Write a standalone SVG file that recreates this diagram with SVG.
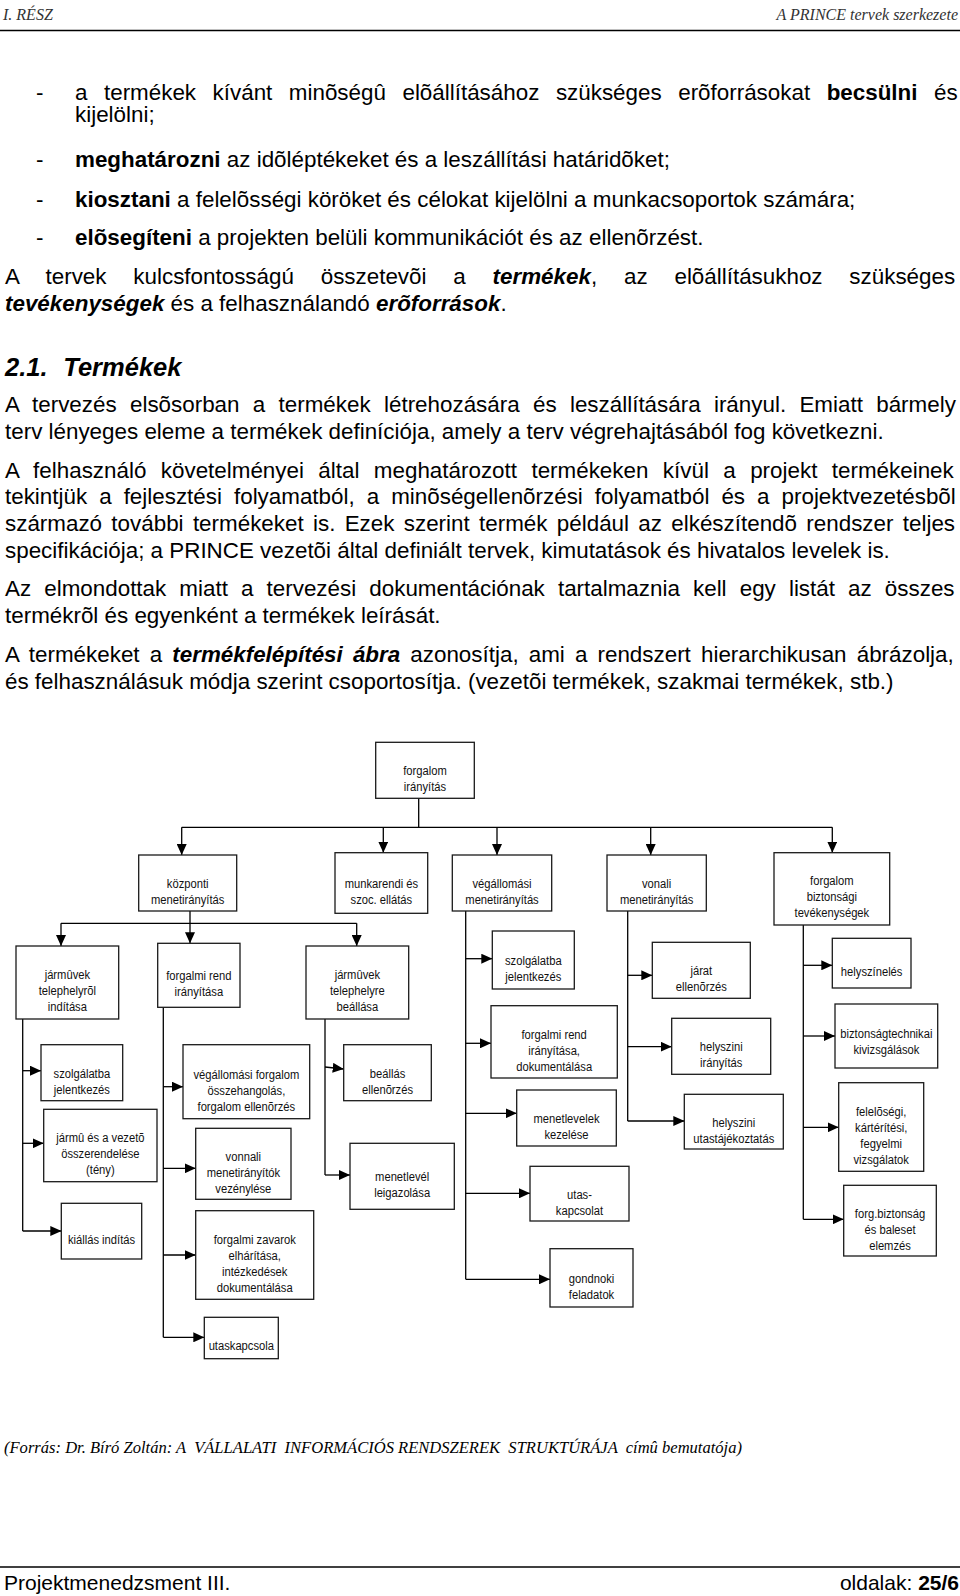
<svg xmlns="http://www.w3.org/2000/svg" width="960" height="1596" viewBox="0 0 960 1596">
<style>
.hd{font-family:'Liberation Serif','Times New Roman',serif;font-style:italic;font-size:16px;fill:#333}
.b{font-family:'Liberation Sans',Arial,sans-serif;font-size:22.4px;fill:#000}
.bd{font-weight:bold}
.bi{font-weight:bold;font-style:italic}
.h{font-family:'Liberation Sans',Arial,sans-serif;font-size:25.5px;font-weight:bold;font-style:italic;fill:#000}
.src{font-family:'Liberation Serif','Times New Roman',serif;font-style:italic;font-size:17px;fill:#000}
.ft{font-family:'Liberation Sans',Arial,sans-serif;font-size:21px;fill:#000}
.box{fill:#fff;stroke:#1a1a1a;stroke-width:1.3}
.nt{font-family:'Liberation Sans',Arial,sans-serif;font-size:13.5px;text-anchor:middle;fill:#111}
.cn path{fill:none;stroke:#000;stroke-width:1.3}
.cn .a{marker-end:url(#arr)}
.rule{stroke:#000;stroke-width:1.6}
</style>
<defs>
<marker id="arr" markerUnits="userSpaceOnUse" markerWidth="11" markerHeight="10" viewBox="0 0 11 10" refX="11" refY="5" orient="auto">
<path d="M0,0 L11,5 L0,10 z" fill="#000"/>
</marker>
</defs>
<rect width="960" height="1596" fill="#fff"/>

<g id="page">
<text class="hd" x="3" y="19.5">I. RÉSZ</text>
<text class="hd" x="958" y="19.5" text-anchor="end">A PRINCE tervek szerkezete</text>
<line class="rule" x1="0" y1="30.5" x2="960" y2="30.5"/>

<text class="b" x="36" y="100">-</text>
<text class="b" x="75" y="100" word-spacing="10.3">a termékek kívánt minõségû elõállításához szükséges erõforrásokat <tspan class="bd">becsülni</tspan> és</text>
<text class="b" x="75" y="122">kijelölni;</text>
<text class="b" x="36" y="166.5">-</text>
<text class="b" x="75" y="166.5"><tspan class="bd">meghatározni</tspan> az idõléptékeket és a leszállítási határidõket;</text>
<text class="b" x="36" y="206.5">-</text>
<text class="b" x="75" y="206.5"><tspan class="bd">kiosztani</tspan> a felelõsségi köröket és célokat kijelölni a munkacsoportok számára;</text>
<text class="b" x="36" y="245">-</text>
<text class="b" x="75" y="245"><tspan class="bd">elõsegíteni</tspan> a projekten belüli kommunikációt és az ellenõrzést.</text>
<text class="b" x="5" y="284" word-spacing="20.6">A tervek kulcsfontosságú összetevõi a <tspan class="bi">termékek</tspan>, az elõállításukhoz szükséges</text>
<text class="b" x="5" y="311"><tspan class="bi">tevékenységek</tspan> és a felhasználandó <tspan class="bi">erõforrások</tspan>.</text>

<text class="h" x="5" y="376">2.1.</text>
<text class="h" x="63.3" y="376">Termékek</text>

<text class="b" x="5" y="412" word-spacing="7.1">A tervezés elsõsorban a termékek létrehozására és leszállítására irányul. Emiatt bármely</text>
<text class="b" x="5" y="438.6">terv lényeges eleme a termékek definíciója, amely a terv végrehajtásából fog következni.</text>
<text class="b" x="5" y="477.6" word-spacing="8.2">A felhasználó követelményei által meghatározott termékeken kívül a projekt termékeinek</text>
<text class="b" x="5" y="504.2" word-spacing="5.8">tekintjük a fejlesztési folyamatból, a minõségellenõrzési folyamatból és a projektvezetésbõl</text>
<text class="b" x="5" y="530.8" word-spacing="3.1">származó további termékeket is. Ezek szerint termék például az elkészítendõ rendszer teljes</text>
<text class="b" x="5" y="557.8">specifikációja; a PRINCE vezetõi által definiált tervek, kimutatások és hivatalos levelek is.</text>
<text class="b" x="5" y="596.3" word-spacing="6.9">Az elmondottak miatt a tervezési dokumentációnak tartalmaznia kell egy listát az összes</text>
<text class="b" x="5" y="622.9">termékrõl és egyenként a termékek leírását.</text>
<text class="b" x="5" y="662" word-spacing="3.9">A termékeket a <tspan class="bi">termékfelépítési ábra</tspan> azonosítja, ami a rendszert hierarchikusan ábrázolja,</text>
<text class="b" x="5" y="688.5">és felhasználásuk módja szerint csoportosítja. (vezetõi termékek, szakmai termékek, stb.)</text>

<text class="src" x="4" y="1453" textLength="738" lengthAdjust="spacingAndGlyphs" xml:space="preserve">(Forrás: Dr. Bíró Zoltán: A  VÁLLALATI  INFORMÁCIÓS RENDSZEREK  STRUKTÚRÁJA  címû bemutatója)</text>
<line class="rule" x1="0" y1="1567" x2="960" y2="1567"/>
<text class="ft" x="4" y="1590">Projektmenedzsment III.</text>
<text class="ft" x="959" y="1590" text-anchor="end">oldalak: <tspan font-weight="bold">25/6</tspan></text>
</g>

<g id="connectors" class="cn">
<path d="M418.7,798.3 V827.3 M181.7,827.3 H832.3"/>
<path class="a" d="M181.7,827.3 V855"/>
<path class="a" d="M383.3,827.3 V852.7"/>
<path class="a" d="M497,827.3 V855"/>
<path class="a" d="M650.7,827.3 V855"/>
<path class="a" d="M832.3,827.3 V852.7"/>
<path d="M190,911 V923.3 M61,923.3 H356.7"/>
<path class="a" d="M61,923.3 V946"/>
<path class="a" d="M190,923.3 V943.3"/>
<path class="a" d="M356.7,923.3 V946"/>
<path d="M22.7,1019 V1231"/>
<path class="a" d="M22.7,1070.7 H41"/>
<path class="a" d="M22.7,1143.3 H43.7"/>
<path class="a" d="M22.7,1231 H61.3"/>
<path d="M163.3,1007.3 V1337.3"/>
<path class="a" d="M163.3,1086.7 H183"/>
<path class="a" d="M163.3,1168.3 H195.7"/>
<path class="a" d="M163.3,1255 H195.7"/>
<path class="a" d="M163.3,1337.3 H204.3"/>
<path d="M325,1019 V1175"/>
<path class="a" d="M325,1067 L343.7,1069"/>
<path class="a" d="M325,1175 H350"/>
<path d="M465.7,911 V1279.3"/>
<path class="a" d="M465.7,958.7 H492.3"/>
<path class="a" d="M465.7,1043.3 H491"/>
<path class="a" d="M465.7,1113.3 H516.7"/>
<path class="a" d="M465.7,1193.3 H530"/>
<path class="a" d="M465.7,1279.3 H550"/>
<path d="M627.7,911 V1121"/>
<path class="a" d="M627.7,975.3 H652.3"/>
<path class="a" d="M627.7,1046.7 H671.7"/>
<path class="a" d="M627.7,1121 H684.3"/>
<path d="M803.3,925 V1219.3"/>
<path class="a" d="M803.3,965.3 H832.3"/>
<path class="a" d="M803.3,1036 H835"/>
<path class="a" d="M803.3,1127.3 H838.7"/>
<path class="a" d="M803.3,1219.3 H843.7"/>
</g>

<g id="n0"><rect class="box" x="375.7" y="742.3" width="98.6" height="56"/><text class="nt" transform="matrix(0.83 0 0 1 425 0)"><tspan x="0" y="775.3">forgalom</tspan><tspan x="0" y="791.3">irányítás</tspan></text></g>
<g id="n1"><rect class="box" x="138.7" y="855" width="98" height="56"/><text class="nt" transform="matrix(0.83 0 0 1 187.7 0)"><tspan x="0" y="888">központi</tspan><tspan x="0" y="904">menetirányítás</tspan></text></g>
<g id="n2"><rect class="box" x="335" y="852.7" width="92.7" height="60.6"/><text class="nt" transform="matrix(0.83 0 0 1 381.35 0)"><tspan x="0" y="888">munkarendi és</tspan><tspan x="0" y="904">szoc. ellátás</tspan></text></g>
<g id="n3"><rect class="box" x="452.3" y="855" width="99.4" height="56"/><text class="nt" transform="matrix(0.83 0 0 1 502 0)"><tspan x="0" y="888">végállomási</tspan><tspan x="0" y="904">menetirányítás</tspan></text></g>
<g id="n4"><rect class="box" x="607" y="855" width="99.3" height="56"/><text class="nt" transform="matrix(0.83 0 0 1 656.65 0)"><tspan x="0" y="888">vonali</tspan><tspan x="0" y="904">menetirányítás</tspan></text></g>
<g id="n5"><rect class="box" x="774" y="852.7" width="115.7" height="72.3"/><text class="nt" transform="matrix(0.83 0 0 1 831.85 0)"><tspan x="0" y="885.5">forgalom</tspan><tspan x="0" y="901.5">biztonsági</tspan><tspan x="0" y="917.5">tevékenységek</tspan></text></g>
<g id="n6"><rect class="box" x="16" y="946" width="102.7" height="73"/><text class="nt" transform="matrix(0.83 0 0 1 67.35 0)"><tspan x="0" y="979.5">jármûvek</tspan><tspan x="0" y="995.5">telephelyrõl</tspan><tspan x="0" y="1011.5">indítása</tspan></text></g>
<g id="n7"><rect class="box" x="157.7" y="943.3" width="82.3" height="64"/><text class="nt" transform="matrix(0.83 0 0 1 198.85 0)"><tspan x="0" y="980.3">forgalmi rend</tspan><tspan x="0" y="996.3">irányítása</tspan></text></g>
<g id="n8"><rect class="box" x="306" y="946" width="102.7" height="73"/><text class="nt" transform="matrix(0.83 0 0 1 357.35 0)"><tspan x="0" y="979.5">jármûvek</tspan><tspan x="0" y="995.5">telephelyre</tspan><tspan x="0" y="1011.5">beállása</tspan></text></g>
<g id="n9"><rect class="box" x="41" y="1044.7" width="81.7" height="56"/><text class="nt" transform="matrix(0.83 0 0 1 81.85 0)"><tspan x="0" y="1077.7">szolgálatba</tspan><tspan x="0" y="1093.7">jelentkezés</tspan></text></g>
<g id="n10"><rect class="box" x="43.7" y="1109.3" width="113.3" height="72.4"/><text class="nt" transform="matrix(0.83 0 0 1 100.35 0)"><tspan x="0" y="1142.5">jármû és a vezetõ</tspan><tspan x="0" y="1158.5">összerendelése</tspan><tspan x="0" y="1174.5">(tény)</tspan></text></g>
<g id="n11"><rect class="box" x="61.3" y="1203.3" width="80.4" height="55.7"/><text class="nt" transform="matrix(0.83 0 0 1 101.5 0)"><tspan x="0" y="1244.2">kiállás indítás</tspan></text></g>
<g id="n12"><rect class="box" x="183" y="1044.7" width="126.7" height="74"/><text class="nt" transform="matrix(0.83 0 0 1 246.35 0)"><tspan x="0" y="1078.7">végállomási forgalom</tspan><tspan x="0" y="1094.7">összehangolás,</tspan><tspan x="0" y="1110.7">forgalom ellenõrzés</tspan></text></g>
<g id="n13"><rect class="box" x="195.7" y="1128.3" width="95.3" height="71"/><text class="nt" transform="matrix(0.83 0 0 1 243.35 0)"><tspan x="0" y="1160.8">vonnali</tspan><tspan x="0" y="1176.8">menetirányítók</tspan><tspan x="0" y="1192.8">vezénylése</tspan></text></g>
<g id="n14"><rect class="box" x="195.7" y="1210.7" width="118" height="88.6"/><text class="nt" transform="matrix(0.83 0 0 1 254.7 0)"><tspan x="0" y="1244">forgalmi zavarok</tspan><tspan x="0" y="1260">elhárítása,</tspan><tspan x="0" y="1276">intézkedések</tspan><tspan x="0" y="1292">dokumentálása</tspan></text></g>
<g id="n15"><rect class="box" x="204.3" y="1317.3" width="74" height="41.4"/><text class="nt" transform="matrix(0.83 0 0 1 241.3 0)"><tspan x="0" y="1350.5">utaskapcsola</tspan></text></g>
<g id="n16"><rect class="box" x="343.7" y="1044.7" width="87.6" height="56"/><text class="nt" transform="matrix(0.83 0 0 1 387.5 0)"><tspan x="0" y="1077.7">beállás</tspan><tspan x="0" y="1093.7">ellenõrzés</tspan></text></g>
<g id="n17"><rect class="box" x="350" y="1143.3" width="104.3" height="66"/><text class="nt" transform="matrix(0.83 0 0 1 402.15 0)"><tspan x="0" y="1181.3">menetlevél</tspan><tspan x="0" y="1197.3">leigazolása</tspan></text></g>
<g id="n18"><rect class="box" x="492.3" y="931" width="82" height="58"/><text class="nt" transform="matrix(0.83 0 0 1 533.3 0)"><tspan x="0" y="965">szolgálatba</tspan><tspan x="0" y="981">jelentkezés</tspan></text></g>
<g id="n19"><rect class="box" x="491" y="1005.7" width="126.3" height="72.3"/><text class="nt" transform="matrix(0.83 0 0 1 554.15 0)"><tspan x="0" y="1038.9">forgalmi rend</tspan><tspan x="0" y="1054.9">irányítása,</tspan><tspan x="0" y="1070.9">dokumentálása</tspan></text></g>
<g id="n20"><rect class="box" x="516.7" y="1090" width="99.6" height="56"/><text class="nt" transform="matrix(0.83 0 0 1 566.5 0)"><tspan x="0" y="1123">menetlevelek</tspan><tspan x="0" y="1139">kezelése</tspan></text></g>
<g id="n21"><rect class="box" x="530" y="1166.3" width="99" height="54.7"/><text class="nt" transform="matrix(0.83 0 0 1 579.5 0)"><tspan x="0" y="1198.7">utas-</tspan><tspan x="0" y="1214.7">kapcsolat</tspan></text></g>
<g id="n22"><rect class="box" x="550" y="1248.7" width="83" height="58.3"/><text class="nt" transform="matrix(0.83 0 0 1 591.5 0)"><tspan x="0" y="1282.9">gondnoki</tspan><tspan x="0" y="1298.9">feladatok</tspan></text></g>
<g id="n23"><rect class="box" x="652.3" y="942.3" width="98" height="56"/><text class="nt" transform="matrix(0.83 0 0 1 701.3 0)"><tspan x="0" y="975.3">járat</tspan><tspan x="0" y="991.3">ellenõrzés</tspan></text></g>
<g id="n24"><rect class="box" x="671.7" y="1018.3" width="99" height="56"/><text class="nt" transform="matrix(0.83 0 0 1 721.2 0)"><tspan x="0" y="1051.3">helyszini</tspan><tspan x="0" y="1067.3">irányítás</tspan></text></g>
<g id="n25"><rect class="box" x="684.3" y="1094.3" width="99" height="54.7"/><text class="nt" transform="matrix(0.83 0 0 1 733.8 0)"><tspan x="0" y="1126.7">helyszini</tspan><tspan x="0" y="1142.7">utastájékoztatás</tspan></text></g>
<g id="n26"><rect class="box" x="832.3" y="938.3" width="78.7" height="49.7"/><text class="nt" transform="matrix(0.83 0 0 1 871.65 0)"><tspan x="0" y="976.5">helyszínelés</tspan></text></g>
<g id="n27"><rect class="box" x="835" y="1004" width="102.7" height="64"/><text class="nt" transform="matrix(0.83 0 0 1 886.35 0)"><tspan x="0" y="1038">biztonságtechnikai</tspan><tspan x="0" y="1054">kivizsgálások</tspan></text></g>
<g id="n28"><rect class="box" x="838.7" y="1082.7" width="85" height="88.6"/><text class="nt" transform="matrix(0.83 0 0 1 881.2 0)"><tspan x="0" y="1116">felelõségi,</tspan><tspan x="0" y="1132">kártérítési,</tspan><tspan x="0" y="1148">fegyelmi</tspan><tspan x="0" y="1164">vizsgálatok</tspan></text></g>
<g id="n29"><rect class="box" x="843.7" y="1185.3" width="92.6" height="70.7"/><text class="nt" transform="matrix(0.83 0 0 1 890 0)"><tspan x="0" y="1217.7">forg.biztonság</tspan><tspan x="0" y="1233.7">és baleset</tspan><tspan x="0" y="1249.7">elemzés</tspan></text></g>
</svg>
